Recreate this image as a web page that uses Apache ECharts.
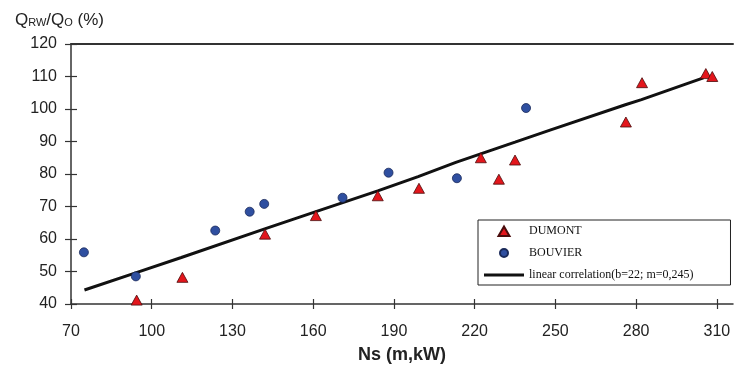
<!DOCTYPE html>
<html>
<head>
<meta charset="utf-8">
<script src="https://cdn.jsdelivr.net/npm/echarts@6/dist/echarts.min.js"></script>
<style>
html,body{margin:0;padding:0;background:#fff;}
#chart{width:735px;height:372px;}
</style>
</head>
<body>
<div id="chart"></div>
<script>
// Data
var xTicks = [70, 100, 130, 160, 190, 220, 250, 280, 310];
var yTicks = [40, 50, 60, 70, 80, 90, 100, 110, 120];

var dumontNs = [94.4, 111.4, 142.1, 161.0, 184.0, 199.3, 222.3, 229.0, 235.0, 276.2, 282.2, 305.9, 308.3];
var dumontQ  = [41.2, 48.2, 61.5, 67.2, 73.3, 75.6, 85.0, 78.4, 84.3, 96.0, 108.1, 110.9, 110.0];

var bouvierNs = [74.8, 94.1, 123.6, 136.4, 141.8, 170.9, 188.0, 213.4, 239.1];
var bouvierQ  = [55.9, 48.5, 62.6, 68.4, 70.8, 72.7, 80.4, 78.7, 100.3];

var corrNs = [75, 94, 111, 142, 161, 184, 199, 213, 235, 248, 276, 282, 305];
var corrQ  = [44.3, 49.6, 54.3, 63.1, 68.4, 74.8, 79.2, 83.6, 89.8, 93.5, 101.3, 102.9, 109.6];

var legendNames = ['DUMONT', 'BOUVIER', 'linear correlation(b=22; m=0,245)'];

function zip(a, b) { return a.map(function (v, i) { return [v, b[i]]; }); }

var axisColor = '#333';
var sans = 'Liberation Sans, Arial, sans-serif';
var labelFont = { fontFamily: sans, fontSize: 16, color: '#222' };

// legend icon shapes (40x10 box each, shape inside)
var iconTriangle = 'path://M0,0 M40,10 M14.5,10 L20,0.5 L25.5,10 Z';
var iconCircle = 'path://M0,0 M40,10 M16,5 A4,4 0 1,0 24,5 A4,4 0 1,0 16,5 Z';
var iconLine = 'path://M0,0 M40,10 M0,3.5 L40,3.5 L40,6.5 L0,6.5 Z';

var chart = echarts.init(document.getElementById('chart'), null, { renderer: 'canvas' });
chart.setOption({
  animation: false,
  backgroundColor: '#fff',
  title: {
    left: 10, top: 7,
    text: '{a|Q}{b|RW}{a|/Q}{b|O}{a| (%)}',
    textStyle: {
      fontWeight: 'normal',
      rich: {
        a: { fontFamily: sans, fontSize: 17, fontWeight: 'normal', color: '#222' },
        b: { fontFamily: sans, fontSize: 11, fontWeight: 'normal', color: '#222', verticalAlign: 'bottom', padding: [0, 0, 1, 0] }
      }
    }
  },
  grid: { left: 71, right: 2, top: 44, bottom: 68 },
  legend: {
    orient: 'vertical',
    left: 478, top: 220,
    padding: [5, 37, 4, 5],
    itemWidth: 40, itemHeight: 10, itemGap: 10,
    borderColor: '#222', borderWidth: 1,
    backgroundColor: '#fff',
    textStyle: { fontFamily: 'Liberation Serif, Times New Roman, serif', fontSize: 12, color: '#111' },
    data: [
      { name: legendNames[0], icon: iconTriangle },
      { name: legendNames[1], icon: iconCircle },
      { name: legendNames[2], icon: iconLine, itemStyle: { color: '#111', borderWidth: 0 } }
    ]
  },
  xAxis: [
    {
      type: 'value', min: 70, max: 316, position: 'bottom',
      axisLine: { show: true, lineStyle: { color: axisColor, width: 1.5 } },
      axisTick: { show: true, inside: false, length: 5, customValues: xTicks, lineStyle: { color: axisColor, width: 1.2 } },
      axisLabel: Object.assign({ customValues: xTicks, margin: 20 }, labelFont),
      splitLine: { show: false },
      name: 'Ns (m,kW)', nameLocation: 'middle', nameGap: 42,
      nameTextStyle: { fontFamily: sans, fontSize: 18, fontWeight: 'bold', color: '#222' }
    },
    {
      type: 'value', min: 70, max: 316, position: 'bottom',
      axisLine: { show: false },
      axisTick: { show: true, inside: true, length: 5, customValues: xTicks, lineStyle: { color: axisColor, width: 1.2 } },
      axisLabel: { show: false },
      splitLine: { show: false }
    },
    {
      type: 'value', min: 70, max: 316, position: 'top',
      axisLine: { show: true, lineStyle: { color: axisColor, width: 2 } },
      axisTick: { show: false },
      axisLabel: { show: false },
      splitLine: { show: false }
    }
  ],
  yAxis: [
    {
      type: 'value', min: 40, max: 120, interval: 10, position: 'left',
      axisLine: { show: true, lineStyle: { color: axisColor, width: 1.5 } },
      axisTick: { show: true, inside: false, length: 6, lineStyle: { color: axisColor, width: 1.2 } },
      axisLabel: Object.assign({ margin: 14 }, labelFont),
      splitLine: { show: false }
    },
    {
      type: 'value', min: 40, max: 120, interval: 10, position: 'left',
      axisLine: { show: false },
      axisTick: { show: true, inside: true, length: 6, lineStyle: { color: axisColor, width: 1.2 } },
      axisLabel: { show: false },
      splitLine: { show: false }
    }
  ],
  series: [
    {
      name: legendNames[2],
      type: 'line', xAxisIndex: 0, yAxisIndex: 0,
      data: zip(corrNs, corrQ),
      symbol: 'none', z: 2,
      lineStyle: { color: '#111', width: 3 },
      itemStyle: { color: '#111' }
    },
    {
      name: legendNames[0],
      type: 'scatter', xAxisIndex: 0, yAxisIndex: 0,
      data: zip(dumontNs, dumontQ),
      symbol: 'triangle', symbolSize: [11, 10], z: 5,
      itemStyle: { color: '#e3161c', borderColor: '#4a0d0d', borderWidth: 0.8, opacity: 1 }
    },
    {
      name: legendNames[1],
      type: 'scatter', xAxisIndex: 0, yAxisIndex: 0,
      data: zip(bouvierNs, bouvierQ),
      symbol: 'circle', symbolSize: 9, z: 5,
      itemStyle: { color: '#2f4fa0', borderColor: '#1a2a5a', borderWidth: 0.8, opacity: 1 }
    }
  ]
});
</script>
</body>
</html>
